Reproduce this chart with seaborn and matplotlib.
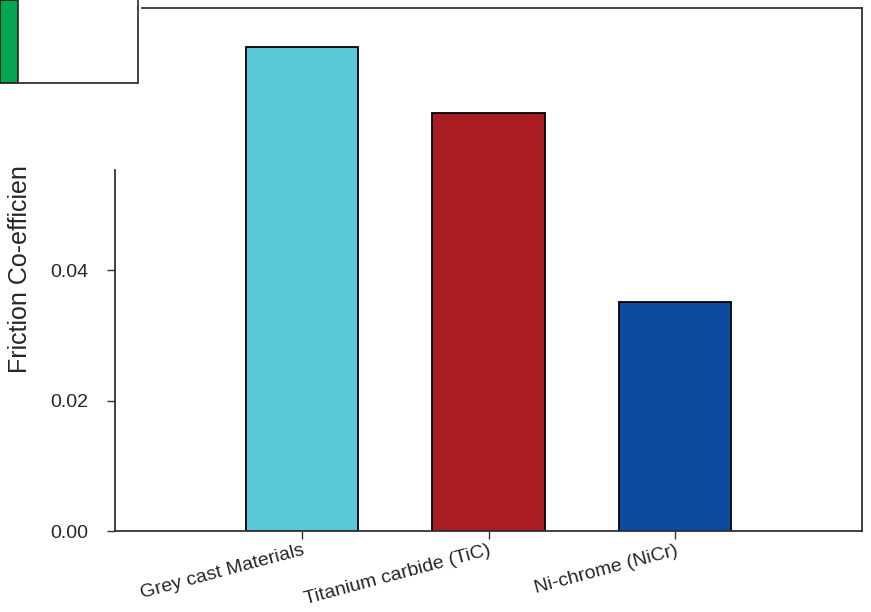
import numpy as np
import pandas as pd
import seaborn as sns
from matplotlib import pyplot as plt
from matplotlib.patches import Rectangle

# data
materials = ["Grey cast Materials", "Titanium carbide (TiC)", "Ni-chrome (NiCr)"]
friction = [0.0742, 0.0641, 0.0351]
bar_colors = ["#5BC8DA", "#A91C22", "#0B4C9F"]
y_ticks = [0.00, 0.02, 0.04]

sns.set_style("white")
plt.rcParams["font.family"] = ["Liberation Sans", "DejaVu Sans"]

df = pd.DataFrame({"material": materials, "friction": friction})

fig = plt.figure(figsize=(8.71, 6.12), dpi=100)
ax = fig.add_axes([115 / 871, 1 - 531 / 612, (862 - 115) / 871, (531 - 8) / 612])

sns.barplot(
    data=df,
    x="material",
    y="friction",
    hue="material",
    palette=bar_colors,
    saturation=1,
    edgecolor="black",
    linewidth=1.3,
    width=0.6,
    legend=False,
    ax=ax,
)

ax.set_xlim(-1.0, 3.0)
ax.set_ylim(0, 0.0802)
ax.set_yticks(y_ticks)
ax.set_yticklabels([f"{v:.2f}" for v in y_ticks], fontsize=14)
ax.set_xlabel("")
ax.set_ylabel("Friction Co-efficien", fontsize=18)
ax.yaxis.set_label_coords(-0.111, 0.5)

for sp in ax.spines.values():
    sp.set_color("#333333")
    sp.set_linewidth(1.3)
ax.spines["left"].set_bounds(0, 0.0553)
ax.spines["top"].set_bounds(-0.853, 3.0)

ax.tick_params(axis="both", direction="out", length=6, width=1, color="#333333",
               left=True, bottom=True)
ax.tick_params(axis="y", pad=13)
ax.tick_params(axis="x", pad=2)
plt.setp(ax.get_xticklabels(), rotation=15, ha="right", rotation_mode="anchor",
         fontsize=14)

# cut-off legend box in the corner
W, H = 871, 612
fig.add_artist(Rectangle((0, 1 - 83 / H), 18 / W, 83 / H, transform=fig.transFigure,
                         facecolor="#00A650", edgecolor="#222222", linewidth=1.3))
fig.add_artist(Rectangle((18 / W, 1 - 83 / H), 120 / W, 90 / H, transform=fig.transFigure,
                         facecolor="white", edgecolor="#333333", linewidth=1.3))

fig.savefig("out.png", dpi=100)
